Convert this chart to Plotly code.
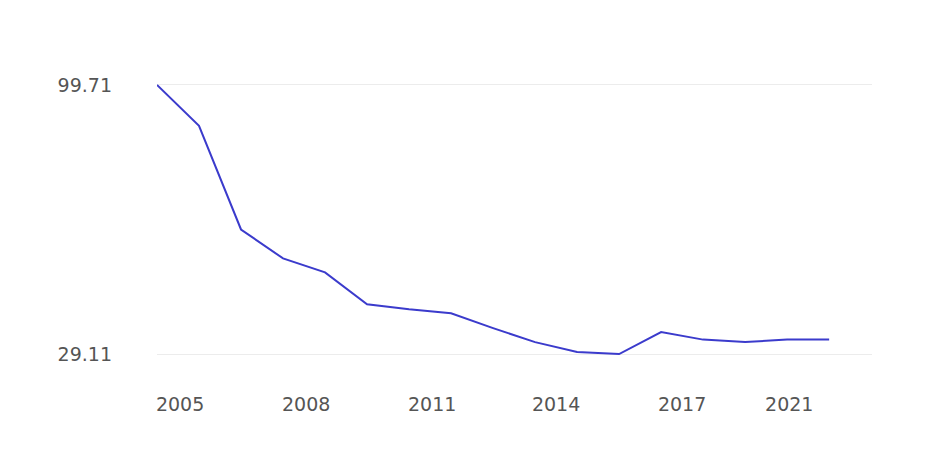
import plotly.graph_objects as go

years = list(range(2005, 2022))
values = [99.71, 88.99, 61.79, 54.21, 50.55, 42.18, 40.87, 39.83, 35.91,
          32.24, 29.63, 29.11, 34.86, 32.90, 32.24, 32.90, 32.90]
tick_labels = ["2005", "2008", "2011", "2014", "2017", "2021"]
tick_positions = [2005.55, 2008.55, 2011.55, 2014.5, 2017.5, 2020.05]
y_ticks = [29.11, 99.71]

fig = go.Figure(go.Scatter(
    x=years, y=values, mode="lines",
    line=dict(color="#3b3bcc", width=2),
    hoverinfo="skip",
))

fig.update_layout(
    width=950, height=455,
    margin=dict(l=149, r=86, t=67, b=99, autoexpand=False),
    paper_bgcolor="white", plot_bgcolor="white",
    showlegend=False,
    font=dict(family="DejaVu Sans, Arial, sans-serif", color="#555555"),
)
fig.update_xaxes(
    range=[2005, 2022.02], automargin=False,
    tickvals=tick_positions, ticktext=tick_labels,
    showgrid=False, zeroline=False, showline=False,
    ticks="", tickfont=dict(size=19), ticklabelstandoff=27,
)
fig.update_yaxes(
    range=[26.50, 102.32], automargin=False,
    tickvals=y_ticks, ticktext=["29.11", "99.71"],
    showgrid=True, gridcolor="#ececec", gridwidth=1,
    zeroline=False, showline=False,
    ticks="", tickfont=dict(size=19), ticklabelstandoff=44,
)

fig.write_html("out.html")
